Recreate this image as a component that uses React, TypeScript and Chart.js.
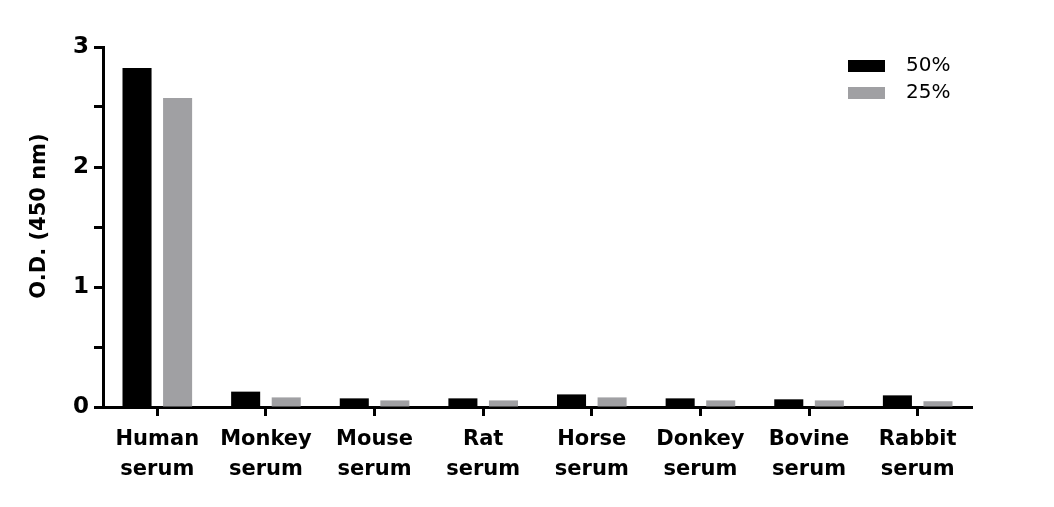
import React, { useEffect, useRef } from "react";
import { Chart, registerables } from "chart.js";

Chart.register(...registerables);

const categories: string[][] = [
  ["Human", "serum"],
  ["Monkey", "serum"],
  ["Mouse", "serum"],
  ["Rat", "serum"],
  ["Horse", "serum"],
  ["Donkey", "serum"],
  ["Bovine", "serum"],
  ["Rabbit", "serum"],
];
const series50 = [2.825, 0.128, 0.072, 0.072, 0.105, 0.072, 0.064, 0.097];
const series25 = [2.575, 0.08, 0.055, 0.055, 0.08, 0.055, 0.055, 0.048];
const seriesLabels = ["50%", "25%"];
const seriesColors = ["#000000", "#a0a0a3"];
const yTicks = [0, 0.5, 1, 1.5, 2, 2.5, 3];

const FONT = "'DejaVu Sans', sans-serif";

const insideLegend = {
  id: "insideLegend",
  afterDraw(chart: any) {
    const ctx = chart.ctx;
    const x0 = 848;
    const y0 = 60;
    ctx.save();
    chart.data.datasets.forEach((ds: any, i: number) => {
      const y = y0 + i * 27;
      ctx.fillStyle = ds.backgroundColor;
      ctx.fillRect(x0, y, 37, 12);
      ctx.fillStyle = "#000";
      ctx.font = `20px ${FONT}`;
      ctx.textBaseline = "middle";
      ctx.textAlign = "left";
      ctx.fillText(ds.label, x0 + 58, y + 6);
    });
    ctx.restore();
  },
};

export default function App() {
  const ref = useRef<HTMLCanvasElement>(null);
  useEffect(() => {
    const chart = new Chart(ref.current!, {
      type: "bar",
      data: {
        labels: categories,
        datasets: [
          { label: seriesLabels[0], data: series50, backgroundColor: seriesColors[0] },
          { label: seriesLabels[1], data: series25, backgroundColor: seriesColors[1] },
        ],
      },
      options: {
        animation: false,
        responsive: true,
        maintainAspectRatio: false,
        layout: { padding: { left: 0, right: 82, top: 47, bottom: 0 } },
        datasets: {
          bar: { categoryPercentage: 0.747, barPercentage: 0.716 },
        },
        plugins: {
          legend: { display: false },
          tooltip: { enabled: false },
        },
        scales: {
          x: {
            afterFit: (s: any) => { s.height = 100; },
            border: { display: true, color: "#000", width: 3 },
            grid: { display: true, drawOnChartArea: false, drawTicks: true, tickLength: 9, tickWidth: 3, tickColor: "#000", offset: false },
            ticks: { color: "#000", font: { family: FONT, size: 21, weight: "bold", lineHeight: 1.4 }, padding: 9, maxRotation: 0, autoSkip: false },
          },
          y: {
            min: 0,
            max: 3,
            afterFit: (s: any) => { s.width = 103; },
            afterBuildTicks: (s: any) => { s.ticks = yTicks.map((v) => ({ value: v })); },
            border: { display: true, color: "#000", width: 3 },
            grid: { display: true, drawOnChartArea: false, drawTicks: true, tickLength: 9, tickWidth: 3, tickColor: "#000" },
            ticks: {
              color: "#000",
              font: { family: FONT, size: 23, weight: "bold" },
              padding: 5,
              callback: (v: any) => (Number.isInteger(v) ? String(v) : ""),
            },
            title: {
              display: true,
              text: "   O.D. (450 nm)",
              color: "#000",
              font: { family: FONT, size: 21, weight: "bold" },
              padding: { top: 27, bottom: 0 },
            },
          },
        },
      },
      plugins: [insideLegend],
    });
    return () => chart.destroy();
  }, []);
  return (
    <div style={{ position: "fixed", left: 0, top: 0, width: 1054, height: 507, background: "#fff" }}>
      <canvas ref={ref} />
    </div>
  );
}
